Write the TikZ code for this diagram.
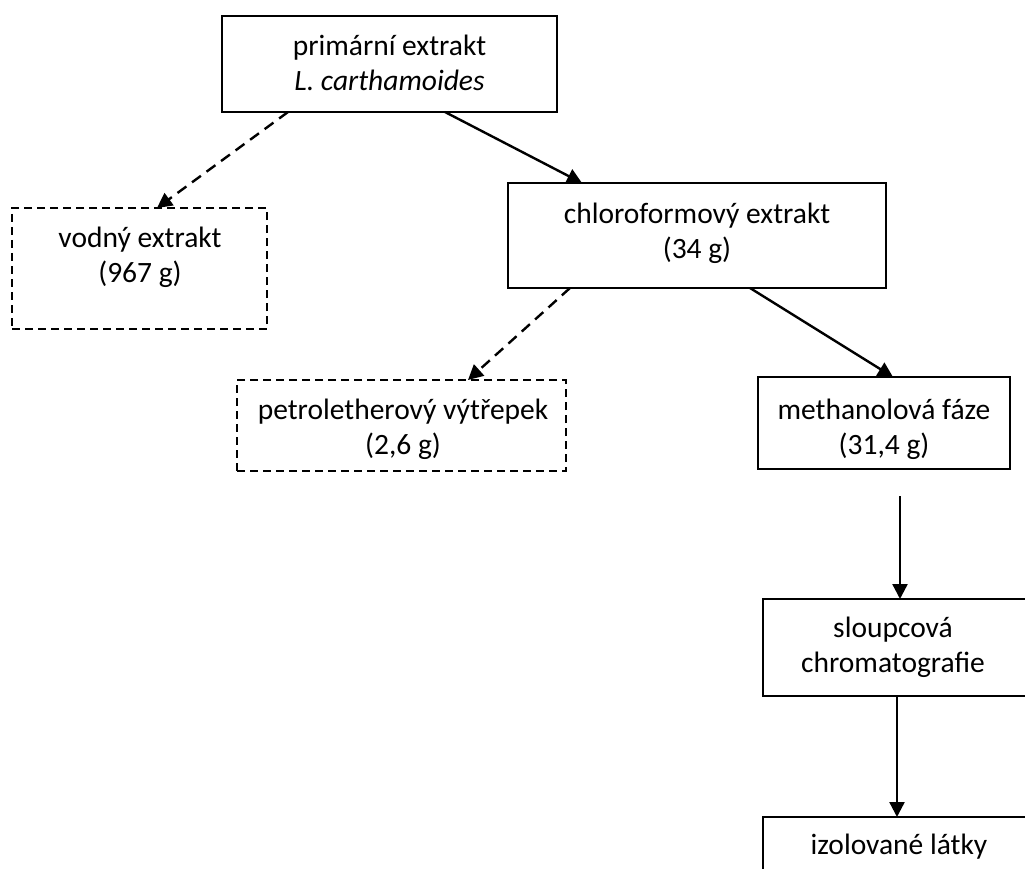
\documentclass[tikz,border=0pt]{standalone}
\usepackage{fontspec}
\setmainfont{Carlito}
\usetikzlibrary{arrows.meta}
\begin{document}
\begin{tikzpicture}[x=1pt, y=-1pt,
  box/.style={draw, line width=2pt, inner sep=0pt, outer sep=0pt},
  dbox/.style={box, dash pattern=on 8pt off 5pt},
  txt/.style={align=center, inner sep=0pt, font=\fontsize{29.5}{35}\selectfont},
  link/.style={line width=2.4pt, -{Triangle[length=15pt, width=15pt]}},
  dlink/.style={link, dash pattern=on 11pt off 7pt}]
  \fill[white] (0,0) rectangle (1025,869);
  \useasboundingbox (0,0) rectangle (1025,869);
  \clip (0,0) rectangle (1025,869);

  % frames
  \node[box,  minimum width=335pt, minimum height=96pt]  (prim)  at (389.5,64)  {};
  \node[dbox, minimum width=255pt, minimum height=121pt] (vodny) at (139.5,268.5) {};
  \node[box,  minimum width=378pt, minimum height=105pt] (chl)   at (697,235.5) {};
  \node[dbox, minimum width=329pt, minimum height=91pt]  (pet)   at (401.5,425.5) {};
  \node[box,  minimum width=252pt, minimum height=92pt]  (meth)  at (884,423)   {};
  \node[box,  minimum width=266pt, minimum height=97pt]  (sloup) at (896,647.5) {};
  \node[box,  minimum width=272pt, minimum height=60pt]  (izol)  at (899,847)   {};

  % captions
  \node[txt] (prim-t)  at (389.5,66.4) {\strut primární extrakt\\\strut\textit{L. carthamoides}};
  \node[txt] (vodny-t) at (140,258)    {\strut vodný extrakt\\\strut(967 g)};
  \node[txt] (chl-t)   at (697,233.5)  {\strut chloroformový extrakt\\\strut(34 g)};
  \node[txt] (pet-t)   at (403,429.5)  {\strut petroletherový výtřepek\\\strut(2,6 g)};
  \node[txt] (meth-t)  at (884,429.5)  {\strut methanolová fáze\\\strut(31,4 g)};
  \node[txt] (sloup-t) at (893,648)    {\strut sloupcová\\\strut chromatografie};
  \node[txt] (izol-t)  at (899,847)    {\strut izolované látky};

  % flow
  \coordinate (mstart) at (900,496);
  \draw[dlink] ([xshift=66pt]prim.south west)  -- ([xshift=145pt]vodny.north west);
  \draw[link]  ([xshift=223pt]prim.south west) -- ([xshift=74pt]chl.north west);
  \draw[dlink] ([xshift=62pt]chl.south west)   -- ([xshift=231pt]pet.north west);
  \draw[link]  ([xshift=242pt]chl.south west)  -- ([xshift=135pt]meth.north west);
  \draw[link]  (mstart) -- ([xshift=137pt]sloup.north west);
  \draw[link]  ([xshift=134pt]sloup.south west) -- ([xshift=134pt]izol.north west);
\end{tikzpicture}
\end{document}
